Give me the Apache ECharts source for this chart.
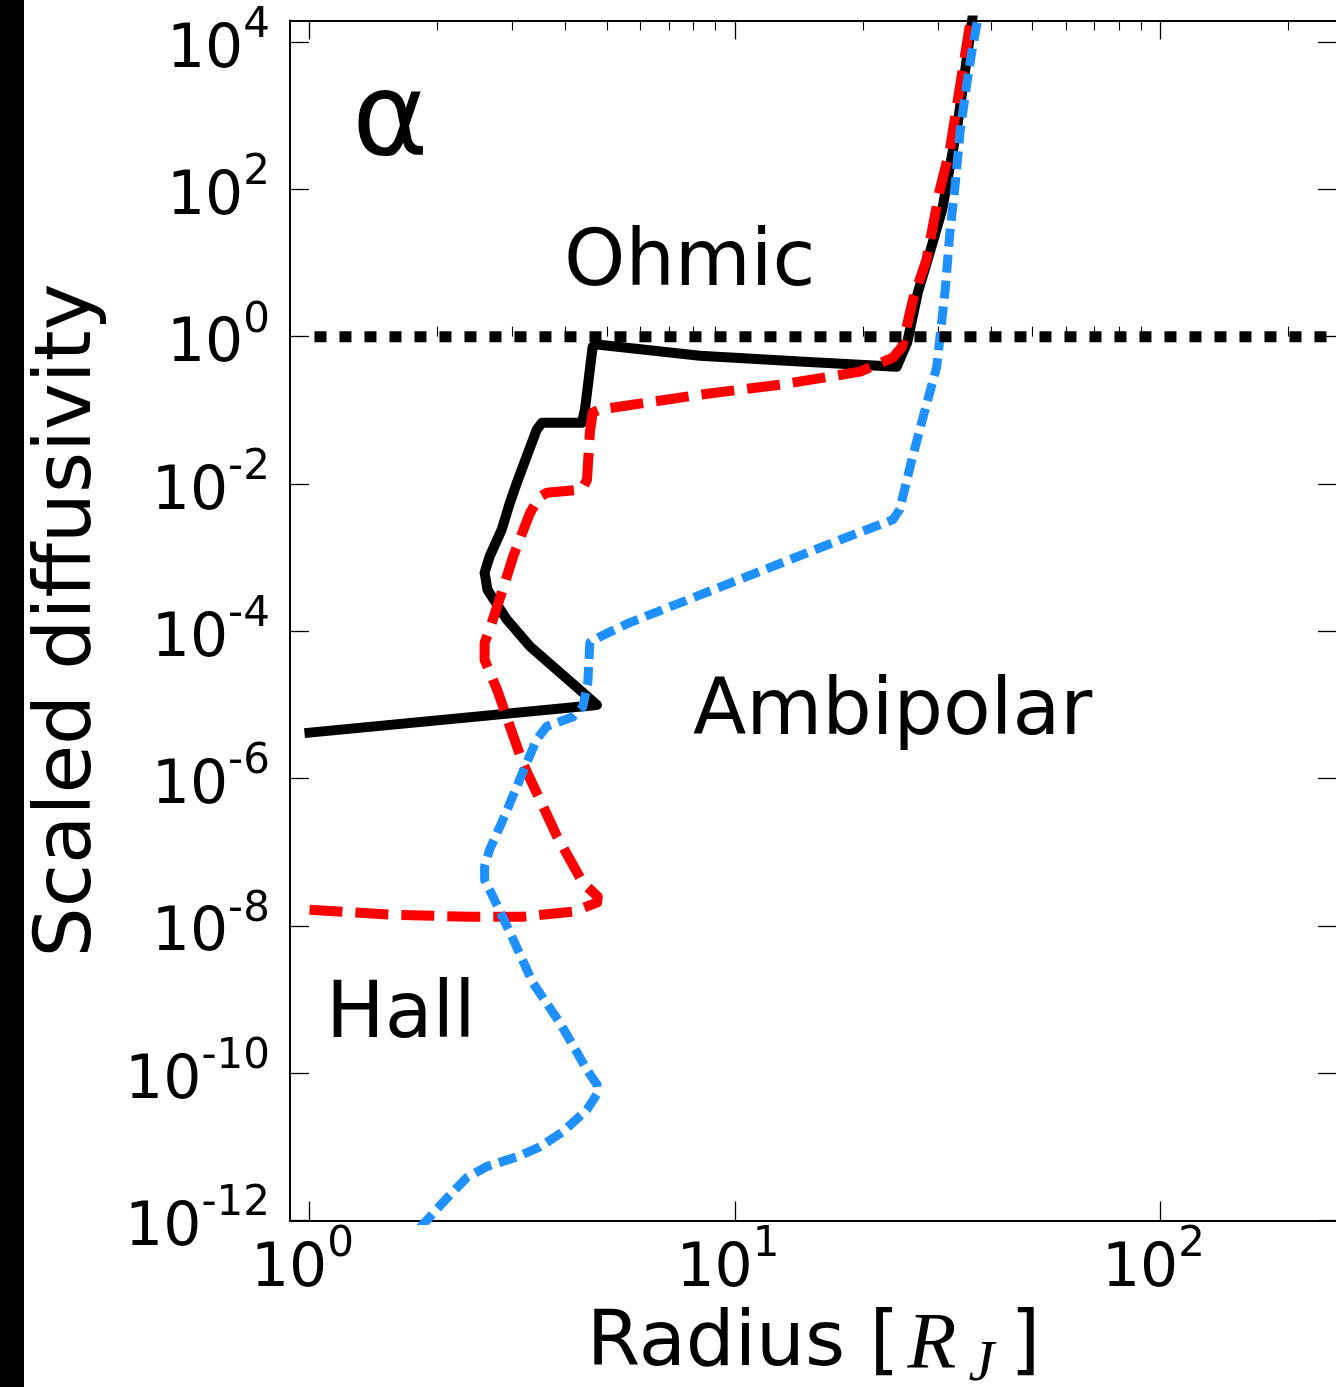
<!DOCTYPE html>
<html><head><meta charset="utf-8">
<script src="https://cdn.jsdelivr.net/npm/echarts@6/dist/echarts.min.js"></script>
<style>html,body{margin:0;padding:0;background:#fff}#c{width:1336px;height:1387px}</style>
</head><body><div id="c"></div>
<script>
// ---- axis ranges & ticks (data units) ----
const X_MIN = 0.9, X_MAX = 260;
const Y_MIN = 1e-12, Y_MAX = 1.96e4;
const xMajorTicks = [1, 10, 100];
const xMinorTicks = [2,3,4,5,6,7,8,9,20,30,40,50,60,70,80,90,200];
const yMajorTicks = [1e-12,1e-10,1e-8,1e-6,1e-4,1e-2,1,1e2,1e4];

// ---- series (radius [R_J], scaled diffusivity) ----
const blackRadius = [1.00,4.74,4.39,3.30,2.91,2.62,2.58,2.65,2.83,2.96,3.09,3.42,3.52,4.37,4.44,4.63,4.74,8.27,14.2,24.0,25.4,26.9,28.7,30.7,32.0,33.3,34.7,36.1,36.6];
const blackDiff   = [4.2e-6,1.0e-5,1.47e-5,6.2e-5,1.44e-4,3.67e-4,6.25e-4,1.03e-3,2.4e-3,5.6e-3,0.0114,0.0546,0.068,0.068,0.102,0.73,0.78,0.55,0.46,0.39,0.83,3.96,13.8,53,203,710,3840,2.0e4,3.8e4];

const redRadius = [1.00,1.545,2.38,3.17,4.16,4.74,4.76,4.39,3.82,3.17,2.76,2.68,2.58,2.58,2.65,2.83,3.01,3.30,3.48,3.61,4.37,4.49,4.56,4.63,4.81,8.27,12.8,19.7,23.5,24.7,26.2,28.2,30.3,32.0,33.8,35.3,36.5];
const redDiff   = [1.66e-8,1.42e-8,1.33e-8,1.33e-8,1.56e-8,2.07e-8,2.49e-8,3.86e-8,1.63e-7,1.64e-6,1.61e-5,2.42e-5,4.1e-5,7.0e-5,1.05e-4,3.34e-4,1.03e-3,4.07e-3,6.7e-3,7.6e-3,8.4e-3,0.0114,0.0497,0.093,0.102,0.163,0.223,0.335,0.519,0.73,3.18,11.1,99,346,2480,1.18e4,3.8e4];

const blueRadius = [1.82,2.058,2.34,2.61,3.07,3.48,3.94,4.49,4.76,4.74,4.49,3.88,3.35,2.96,2.70,2.58,2.58,2.65,2.85,3.12,3.42,3.61,4.16,4.39,4.51,4.56,4.81,5.66,17.7,23.5,24.4,25.8,27.7,29.8,31.2,32.0,32.9,33.8,35.1,36.2,37.2,37.9];
const blueDiff   = [8e-13,1.75e-12,3.8e-12,5.4e-12,7.3e-12,1.0e-11,1.6e-11,3.2e-11,5.4e-11,7.0e-11,1.11e-10,4.8e-10,1.69e-9,8.1e-9,2.49e-8,4.2e-8,6.4e-8,1.08e-7,2.77e-7,9.7e-7,3.4e-6,5.1e-6,6.9e-6,9.5e-6,2.0e-5,7.0e-5,8.4e-5,1.31e-4,1.75e-3,3.27e-3,4.5e-3,0.0172,0.082,0.39,4.35,25.8,109,589,2810,8650,2.0e4,3.8e4];

const unityRadius = [1, 300];
const unityDiff   = [1, 1];

const annotations = [
  {text: 'α', x: 352, y: 124, size: 116},
  {text: 'Ohmic', x: 564, y: 265, size: 78},
  {text: 'Ambipolar', x: 693, y: 714, size: 78},
  {text: 'Hall', x: 326, y: 1017, size: 78}
];

const lg = Math.log10;
const pairs = (r, d) => r.map((v, i) => [lg(v), lg(d[i])]);
const FONT = 'DejaVu Sans';

const supRich = (padRight) => ({
  b: {fontSize: 60, lineHeight: 60, fontFamily: FONT, color: '#000', verticalAlign: 'bottom'},
  s: {fontSize: 42, lineHeight: 42, fontFamily: FONT, color: '#000', verticalAlign: 'bottom', padding: [0, padRight, 34, 0]}
});
const powFmt = v => '{b|10}{s|' + Math.round(v) + '}';

const grid = {left: 290, top: 20.5, width: 1047, height: 1200, containLabel: false, outerBoundsMode: 'none'};
const xBase = {type: 'value', min: lg(X_MIN), max: lg(X_MAX), splitLine: {show: false}};
const yBase = {type: 'value', min: lg(Y_MIN), max: lg(Y_MAX), splitLine: {show: false}};
const spine = {show: true, onZero: false, lineStyle: {color: '#000', width: 2}};
const majorTick = vals => ({show: true, inside: true, length: 19, customValues: vals, lineStyle: {color: '#000', width: 1.3}});
const minorTick = vals => ({show: true, inside: true, length: 10, customValues: vals, lineStyle: {color: '#000', width: 1.1}});

const option = {
  animation: false,
  backgroundColor: '#fff',
  grid: [Object.assign({}, grid), Object.assign({}, grid)],
  xAxis: [
    Object.assign({}, xBase, {
      gridIndex: 0, position: 'bottom', axisLine: spine,
      axisTick: majorTick(xMajorTicks.map(lg)),
      axisLabel: {customValues: xMajorTicks.map(lg), formatter: powFmt, margin: 20, rich: supRich(14)},
      name: '{t|Radius [}{r|R}{j|J}{t|]}', nameLocation: 'middle', nameGap: 86,
      nameTextStyle: {
        rich: {
          t: {fontSize: 77, lineHeight: 77, fontFamily: FONT, color: '#000', verticalAlign: 'top'},
          r: {fontSize: 80, lineHeight: 77, fontFamily: 'Liberation Serif', fontStyle: 'italic', color: '#000', verticalAlign: 'top', padding: [0, 12, 0, 8]},
          j: {fontSize: 58, lineHeight: 58, fontFamily: 'Liberation Serif', fontStyle: 'italic', color: '#000', verticalAlign: 'top', padding: [29, 16, 0, 0]}
        }
      }
    }),
    Object.assign({}, xBase, {
      gridIndex: 0, position: 'top', axisLine: spine,
      axisTick: majorTick(xMajorTicks.map(lg)), axisLabel: {show: false}
    }),
    Object.assign({}, xBase, {
      gridIndex: 1, position: 'bottom', axisLine: {show: false},
      axisTick: minorTick(xMinorTicks.map(lg)), axisLabel: {show: false}
    }),
    Object.assign({}, xBase, {
      gridIndex: 1, position: 'top', axisLine: {show: false},
      axisTick: minorTick(xMinorTicks.map(lg)), axisLabel: {show: false}
    })
  ],
  yAxis: [
    Object.assign({}, yBase, {
      gridIndex: 0, position: 'left', axisLine: spine,
      axisTick: majorTick(yMajorTicks.map(lg)),
      axisLabel: {customValues: yMajorTicks.map(lg), formatter: powFmt, margin: 20, padding: [18, 0, 0, 0], rich: supRich(0)},
      name: 'Scaled diffusivity', nameLocation: 'middle', nameGap: 181,
      nameTextStyle: {fontSize: 79, fontFamily: FONT, color: '#000'}
    }),
    Object.assign({}, yBase, {
      gridIndex: 0, position: 'right', axisLine: spine,
      axisTick: majorTick(yMajorTicks.map(lg)), axisLabel: {show: false}
    }),
    Object.assign({}, yBase, {
      gridIndex: 1, show: false
    })
  ],
  series: [
    {type: 'line', name: 'solid', xAxisIndex: 0, yAxisIndex: 0, data: pairs(blackRadius, blackDiff),
     showSymbol: false, symbol: 'none', lineStyle: {color: '#000', width: 10, cap: 'square', join: 'round'}},
    {type: 'line', name: 'dashed', xAxisIndex: 0, yAxisIndex: 0, data: pairs(redRadius, redDiff),
     showSymbol: false, symbol: 'none', lineStyle: {color: '#ff0000', width: 10, type: [33, 13], cap: 'butt', join: 'round'}},
    {type: 'line', name: 'dotted', xAxisIndex: 0, yAxisIndex: 0, data: pairs(blueRadius, blueDiff),
     showSymbol: false, symbol: 'none', lineStyle: {color: '#1e90ff', width: 9, type: [18, 8], cap: 'butt', join: 'round'}},
    {type: 'line', name: 'unity', xAxisIndex: 0, yAxisIndex: 0, data: pairs(unityRadius, unityDiff),
     showSymbol: false, symbol: 'none', lineStyle: {color: '#000', width: 11, type: [12, 13], dashOffset: 20, cap: 'butt'}}
  ],
  graphic: [
    {type: 'rect', shape: {x: 0, y: 0, width: 24, height: 1387}, style: {fill: '#000'}}
  ].concat(annotations.map(a => ({
    type: 'text', x: a.x, y: a.y,
    style: {text: a.text, fontSize: a.size, fontFamily: FONT, fill: '#000', align: 'left', verticalAlign: 'middle'}
  })))
};

const chart = echarts.init(document.getElementById('c'), null, {renderer: 'canvas'});
chart.setOption(option);
</script>
</body></html>
